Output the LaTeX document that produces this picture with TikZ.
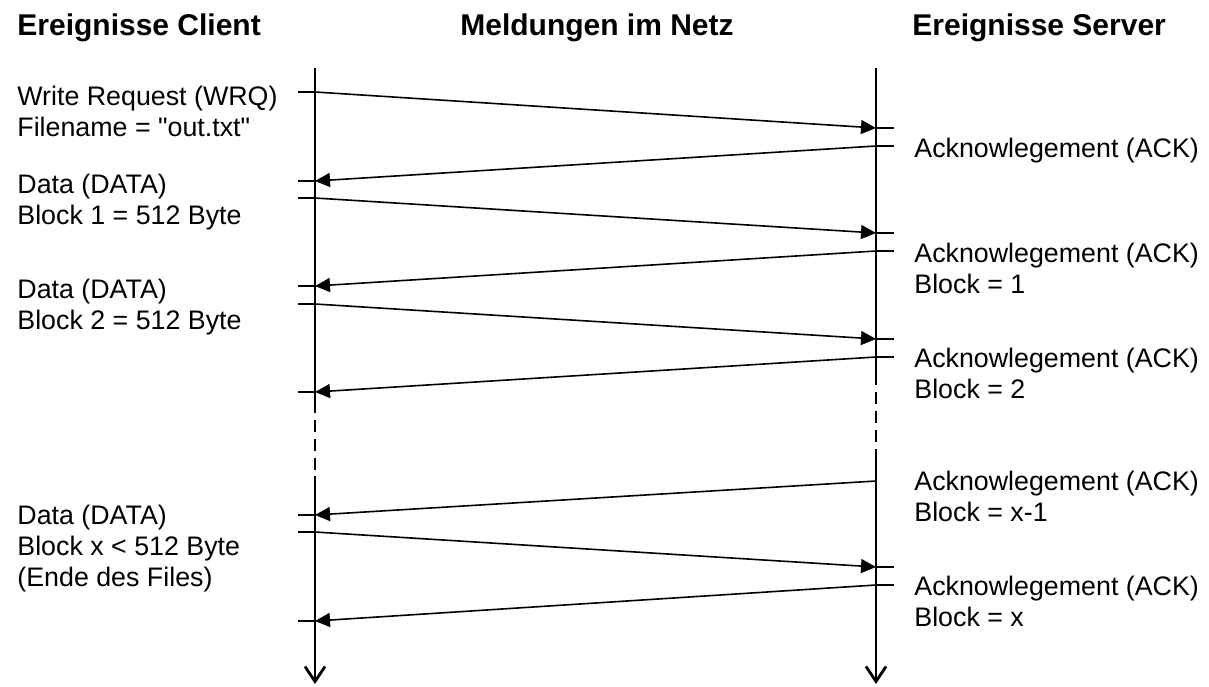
\documentclass[tikz,border=0pt]{standalone}
\usepackage{fontspec}
\newfontfamily\diagfont{Liberation Sans}
\usetikzlibrary{arrows.meta}

\begin{document}
\begin{tikzpicture}[x=0.5pt, y=-0.5pt,
        timeline/.style = {line width=1.4pt},
        breakline/.style = {line width=1.4pt, dash pattern=on 6pt off 3.5pt, dash phase=6pt},
        msg/.style = {line width=0.8pt, -{Triangle[length=7.5pt, width=7pt]}},
        tickline/.style = {line width=0.8pt},
        evtext/.style = {anchor=north west, inner sep=0pt, align=left,
            font=\diagfont\fontsize{13.4}{15.5}\selectfont},
        headtext/.style = {anchor=base west, inner sep=0pt,
            font=\diagfont\fontsize{15}{18}\selectfont\bfseries}]
        \useasboundingbox (0, 0) rectangle (1209, 686);

        \node[headtext] (hclient) at (17, 35) {Ereignisse Client};
        \node[headtext, anchor=base] (hnet) at (597, 35) {Meldungen im Netz};
        \node[headtext] (hserver) at (912, 35) {Ereignisse Server};

        \coordinate (ctop) at (315, 68);
        \coordinate (cbreak) at (315, 413);
        \coordinate (cresume) at (315, 476);
        \coordinate (cbot) at (315, 684);
        \coordinate (stop) at (876, 68);
        \coordinate (sbreak) at (876, 385);
        \coordinate (sresume) at (876, 460);
        \coordinate (sbot) at (876, 684);

        \draw[timeline] (ctop) -- (cbreak);
        \draw[breakline] (cbreak) -- (cresume);
        \draw[timeline, -{Straight Barb[length=7.5pt, width=10pt]}] (cresume) -- (cbot);
        \draw[timeline] (stop) -- (sbreak);
        \draw[breakline] (sbreak) -- (sresume);
        \draw[timeline, -{Straight Barb[length=7.5pt, width=10pt]}] (sresume) -- (sbot);

        \coordinate (c1) at (315, 92);   \coordinate (s1) at (876, 128);
        \coordinate (s2) at (876, 146);  \coordinate (c2) at (315, 181);
        \coordinate (c3) at (315, 198);  \coordinate (s3) at (876, 233);
        \coordinate (s4) at (876, 251);  \coordinate (c4) at (315, 286);
        \coordinate (c5) at (315, 304);  \coordinate (s5) at (876, 339);
        \coordinate (s6) at (876, 357);  \coordinate (c6) at (315, 392);
        \coordinate (s7) at (876, 481);  \coordinate (c7) at (315, 515);
        \coordinate (c8) at (315, 532);  \coordinate (s8) at (876, 567);
        \coordinate (s9) at (876, 585);  \coordinate (c9) at (315, 621);

        \draw[msg] (c1) -- (s1);
        \draw[msg] (s2) -- (c2);
        \draw[msg] (c3) -- (s3);
        \draw[msg] (s4) -- (c4);
        \draw[msg] (c5) -- (s5);
        \draw[msg] (s6) -- (c6);
        \draw[msg] (s7) -- (c7);
        \draw[msg] (c8) -- (s8);
        \draw[msg] (s9) -- (c9);

        \draw[tickline] (c1) -- ++(-17, 0);
        \draw[tickline] (c2) -- ++(-17, 0);
        \draw[tickline] (c3) -- ++(-17, 0);
        \draw[tickline] (c4) -- ++(-17, 0);
        \draw[tickline] (c5) -- ++(-17, 0);
        \draw[tickline] (c6) -- ++(-17, 0);
        \draw[tickline] (c7) -- ++(-17, 0);
        \draw[tickline] (c8) -- ++(-17, 0);
        \draw[tickline] (c9) -- ++(-17, 0);
        \draw[tickline] (s1) -- ++(18, 0);
        \draw[tickline] (s2) -- ++(18, 0);
        \draw[tickline] (s3) -- ++(18, 0);
        \draw[tickline] (s4) -- ++(18, 0);
        \draw[tickline] (s5) -- ++(18, 0);
        \draw[tickline] (s6) -- ++(18, 0);
        \draw[tickline] (s8) -- ++(18, 0);
        \draw[tickline] (s9) -- ++(18, 0);

        \node[evtext] (wrq) at (17, 85.4) {Write Request (WRQ)\\Filename = "out.txt"};
        \node[evtext] (data1) at (17, 173.4) {Data (DATA)\\Block 1 = 512 Byte};
        \node[evtext] (data2) at (17, 278.4) {Data (DATA)\\Block 2 = 512 Byte};
        \node[evtext] (datax) at (17, 504.4) {Data (DATA)\\Block x < 512 Byte\\(Ende des Files)};

        \node[evtext] (ack0) at (914, 137.4) {Acknowlegement (ACK)};
        \node[evtext] (ack1) at (914, 242.4) {Acknowlegement (ACK)\\Block = 1};
        \node[evtext] (ack2) at (914, 347.4) {Acknowlegement (ACK)\\Block = 2};
        \node[evtext] (ackx1) at (914, 470.4) {Acknowlegement (ACK)\\Block = x-1};
        \node[evtext] (ackx) at (914, 575.4) {Acknowlegement (ACK)\\Block = x};
\end{tikzpicture}
\end{document}
